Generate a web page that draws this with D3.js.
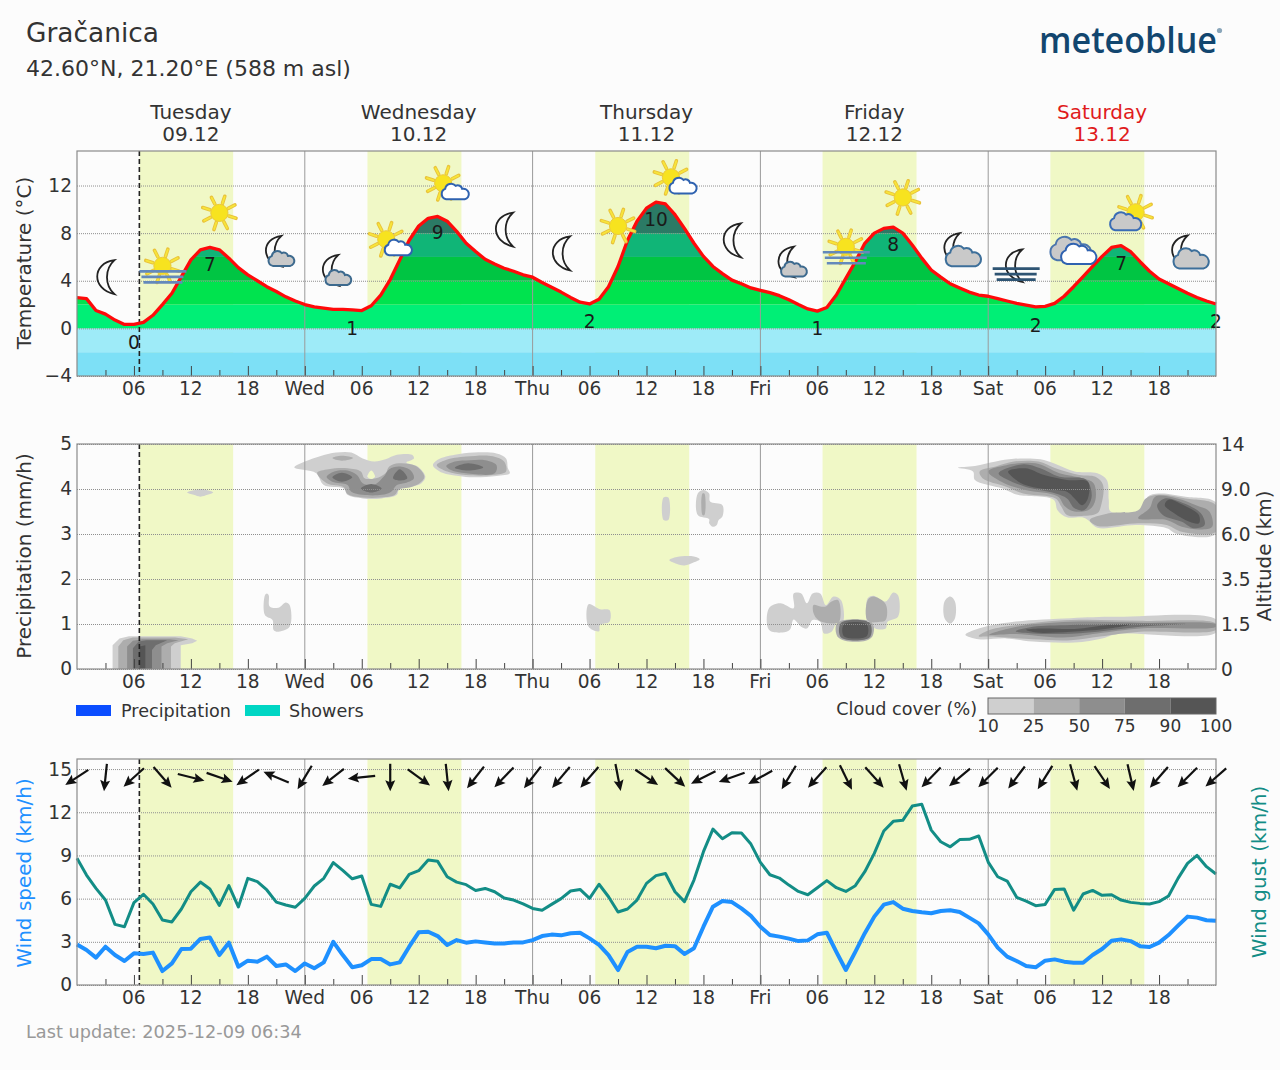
<!DOCTYPE html>
<html>
<head>
<meta charset="utf-8">
<script src="https://cdn.jsdelivr.net/npm/d3@7/dist/d3.min.js"></script>
<style>
  html, body { margin: 0; padding: 0; background: #fcfcfc; }
  svg { display: block; font-family: "DejaVu Sans", sans-serif; }
  text { fill: #333; }
</style>
</head>
<body>
<svg id="chart" width="1280" height="1070"></svg>
<script>
// Hourly forecast series, starting Tuesday 00:00
const temperature = [2.58,2.5,1.5,1.2,0.7,0.33,0.33,0.5,1.1,2,2.95,4.35,5.75,6.6,6.8,6.6,5.9,5.1,4.5,4,3.5,3.1,2.65,2.3,
  2,1.8,1.7,1.6,1.6,1.55,1.5,1.9,2.8,4.1,5.75,7.4,8.6,9.25,9.4,9,8.15,7.15,6.45,5.8,5.4,5.05,4.8,4.5,
  4.3,3.85,3.45,3.05,2.6,2.2,2.05,2.45,3.5,5.2,7.4,9,10.1,10.6,10.45,9.55,8.4,7.15,6.05,5.2,4.6,4.05,3.75,3.4,
  3.2,3,2.75,2.4,2,1.63,1.45,1.75,2.8,4.2,5.6,7.15,8,8.4,8.5,8,7,5.9,4.9,4.3,3.75,3.4,3.05,2.8,
  2.7,2.5,2.3,2.1,1.95,1.8,1.85,2.1,2.7,3.5,4.35,5.2,6.05,6.8,6.95,6.45,5.6,4.8,4.15,3.75,3.35,2.95,2.6,2.3,2.05];

const windSpeed = [2.82,2.43,1.9,2.66,2.08,1.67,2.2,2.15,2.25,0.97,1.5,2.5,2.52,3.2,3.3,2.08,2.94,1.27,1.69,1.62,1.97,1.32,1.43,0.97,
  1.5,1.16,1.57,3,2.08,1.23,1.37,1.8,1.8,1.43,1.57,2.66,3.66,3.7,3.4,2.78,3.12,2.94,3.03,2.96,2.89,2.89,2.96,2.96,
  3.12,3.4,3.5,3.45,3.6,3.63,3.24,2.78,2.08,1.04,2.3,2.66,2.66,2.55,2.73,2.7,2.15,2.55,4.05,5.44,5.83,5.76,5.32,4.8,
  4.05,3.47,3.36,3.22,3.05,3.1,3.52,3.63,2.3,1.04,2.3,3.6,4.75,5.58,5.76,5.3,5.14,5.05,4.98,5.14,5.19,5.07,4.68,4.28,
  3.52,2.6,1.97,1.67,1.32,1.23,1.69,1.78,1.62,1.55,1.55,2.08,2.5,3.08,3.17,3.05,2.7,2.64,2.94,3.47,4.12,4.75,4.68,4.5,4.47];

const windGust = [8.8,7.64,6.71,5.9,4.21,4.05,5.72,6.3,5.63,4.51,4.38,5.28,6.48,7.15,6.67,5.53,6.9,5.42,7.41,7.18,6.6,5.76,5.56,5.4,
  6.02,6.88,7.41,8.5,7.96,7.38,7.57,5.6,5.46,7,6.74,7.69,7.94,8.68,8.59,7.52,7.15,6.97,6.57,6.71,6.48,6.04,5.9,5.63,
  5.32,5.19,5.6,6,6.53,6.64,6.02,7,6.13,5.07,5.28,5.9,7.06,7.6,7.75,6.48,5.79,7.29,9.26,10.83,10.16,10.58,10.56,9.79,
  8.52,7.66,7.43,6.94,6.5,6.27,6.76,7.25,6.76,6.5,6.9,7.87,9.14,10.7,11.37,11.44,12.43,12.55,10.76,9.95,9.6,10.1,10.12,10.35,
  8.54,7.52,7.22,6.09,5.83,5.51,5.6,6.64,6.67,5.2,6.32,6.57,6.23,6.27,5.9,5.74,5.67,5.63,5.79,6.18,7.41,8.45,9,8.22,7.71];

// Compass bearing the wind blows from, every third hour
const windFrom = [57,6,48,319,284,289,55,113,31,52,84,0,306,354,38,44,38,40,41,349,304,313,63,70,61,31,42,334,318,344,44,50,45,37,32,345,326,347,41,45,49];

// Rounded daily extremes printed on the temperature panel: [hour, value, height in °C]
const tempLabels = [[6,0,-1.2],[14,7,5.4],[29,1,0],[38,9,8.1],[54,2,0.6],[61,10,9.2],[78,1,0],[86,8,7.1],[101,2,0.3],[110,7,5.5],[120,2,0.6]];

const dayNames = ["Tuesday","Wednesday","Thursday","Friday","Saturday"];
const dayDates = ["09.12","10.12","11.12","12.12","13.12"];
const dayShort = {24:"Wed",48:"Thu",72:"Fri",96:"Sat"};
const daylight = [[6.6,16.45],[30.6,40.5],[54.6,64.5],[78.55,88.45],[102.55,112.45]];
const nowHour = 6.57;

const tempBands = [[-4,-2,"#7de0f6"],[-2,0,"#9eebf8"],[0,2,"#00ef76"],[2,4,"#00e34e"],[4,6,"#00c543"],[6,8,"#10b577"],[8,16,"#2b7a65"]];
const tempTicks = [-4,0,4,8,12];
const precipTicks = [0,1,2,3,4,5];
const altitudeTicks = ["0","1.5","3.5","6.0","9.0","14"];
const windTicks = [0,3,6,9,12,15];

// Weather symbols every six hours: [hour, kind, height in °C]
const symbols = [[3,"moon",4.3],[9,"sunfog",5],[15,"sun",9.7],[21,"mooncloud",6.4],[27,"mooncloud",4.8],[33,"suncloud",7.4],[39,"suncloud",12.1],
  [45,"moon",8.3],[51,"moon",6.3],[57,"sun",8.6],[63,"suncloud",12.6],[69,"moon",7.4],[75,"mooncloud",5.5],[81,"sunfog",6.6],[87,"sun",11],
  [93,"moonovercast",6.3],[99,"moonfog",5.1],[105,"overcast",6.4],[111,"sunovercast",9.5],[117,"moonovercast",6.1]];

const cloudLevels = [10,25,50,75,90,100];
const cloudColors = ["#cfcfcf","#adadad","#8e8e8e","#6e6e6e","#555555"];

// Cloud cover regions: [band index, outline of [hour, axis position]]
const cloudRegions = [
  [0,[[3.75,0],[3.75,.53],[4.48,.68],[5.48,.73],[10.93,.73],[12.14,.68],[12.66,.63],[12.14,.57],[10.93,.53],[10.93,0]]],
  [1,[[4.35,0],[4.35,.5],[4.88,.64],[5.89,.7],[10.3,.7],[11.73,.66],[10.3,.57],[9.9,.5],[9.9,0]]],
  [2,[[5.28,0],[5.28,.5],[5.89,.63],[6.9,.66],[9.7,.66],[10.7,.64],[9.5,.57],[8.9,.5],[8.9,0]]],
  [3,[[5.89,0],[5.89,.46],[6.5,.61],[7.3,.64],[9.5,.64],[8.3,.53],[7.9,.42],[7.9,0]]],
  [4,[[6.6,0],[6.6,.5],[7.2,.53],[7.2,0]]],
  [0,[[11.6,3.92],[12.3,3.97],[13,4],[13.75,3.97],[14.35,3.92],[13.75,3.87],[13,3.83],[12.3,3.87]]],
  [0,[[19.8,1.64],[20,1.68],[20.2,1.64],[20.3,1.39],[21.2,1.36],[22,1.48],[22.4,1.42],[22.4,.94],[21,.83],[20.7,.87],[20.6,1.09],[19.8,1.2]]],
  [0,[[22.9,4.48],[24,4.61],[25.6,4.73],[27.3,4.81],[28.9,4.81],[30.1,4.68],[31.3,4.61],[32.5,4.66],[33.7,4.76],[35.3,4.76],[35.5,4.68],[34.7,4.59],[35.9,4.5],[36.7,4.27],[36.3,4.13],[35.3,4.05],[33.9,3.98],[33.7,3.87],[32.1,3.79],[30.1,3.79],[28.5,3.87],[28.1,4.01],[26,4.09],[25.2,4.35],[24,4.42]]],
  [1,[[26.9,4.69],[27.9,4.74],[29.1,4.69],[27.9,4.63]]],
  [1,[[25.3,4.36],[26.5,4.44],[28.5,4.46],[29.9,4.39],[30.3,4.24],[31.5,4.24],[32.5,4.35],[32.9,4.5],[33.9,4.57],[35.7,4.51],[36.6,4.27],[36.1,4.13],[35.1,4.04],[33.9,3.99],[33.5,3.87],[32.1,3.81],[30.1,3.81],[28.5,3.89],[28.1,4.04],[26.3,4.13]]],
  [2,[[26.3,4.27],[27.1,4.39],[28.5,4.41],[29.5,4.31],[30.1,4.13],[31.3,4.09],[32.3,4.27],[32.9,4.44],[33.9,4.5],[35.1,4.42],[35.5,4.24],[34.7,4.14],[33.7,4.09],[33.1,3.94],[32.1,3.87],[30.1,3.87],[28.9,3.94],[28.5,4.09],[26.9,4.16]]],
  [3,[[26.9,4.26],[27.9,4.36],[29,4.26],[27.9,4.16]]],
  [3,[[29.9,4.01],[31,4.11],[32.1,4.01],[31,3.92]]],
  [3,[[33.3,4.24],[34,4.44],[34.8,4.24],[34,4.19]]],
  [0,[[37.5,4.53],[38.1,4.66],[39.8,4.76],[41.8,4.81],[44.2,4.79],[45.2,4.68],[45.4,4.46],[45.6,4.35],[44.2,4.29],[41.8,4.26],[40.2,4.29],[38.5,4.36]]],
  [1,[[37.9,4.53],[38.8,4.64],[41,4.72],[43.8,4.73],[45,4.61],[45.2,4.39],[43.8,4.31],[41,4.31],[39,4.39]]],
  [2,[[38.9,4.51],[39.8,4.61],[41.4,4.64],[43,4.64],[44.2,4.53],[44,4.35],[41,4.35],[39.4,4.42]]],
  [3,[[39.8,4.47],[41.2,4.57],[42.8,4.48],[41.2,4.41]]],
  [0,[[53.9,1.44],[55.1,1.33],[56.1,1.31],[56.1,1.05],[55.1,.98],[55,.84],[53.9,.94]]],
  [0,[[61.8,3.81],[62.3,3.81],[62.3,3.31],[61.8,3.31]]],
  [0,[[65.4,3.9],[66,3.98],[66.6,3.9],[66.7,3.72],[68,3.64],[68,3.39],[67.6,3.31],[67.4,3.2],[67,3.16],[66.6,3.24],[66.6,3.33],[65.4,3.42]]],
  [1,[[65.9,3.9],[66.1,3.9],[66.1,3.42],[65.9,3.42]]],
  [0,[[62.4,2.42],[63.2,2.49],[65,2.5],[65.6,2.44],[65,2.37],[64,2.3],[63,2.35]]],
  [0,[[72.9,1.35],[74.1,1.46],[75.5,1.35],[75.5,1.68],[76.3,1.68],[76.9,1.46],[77.5,1.68],[78.3,1.68],[78.9,1.42],[79.7,1.61],[80.5,1.53],[80.7,1.05],[80.1,1.05],[79.5,.83],[78.7,.79],[78.3,1.05],[77.5,1.09],[76.9,.9],[76.3,.94],[75.5,1.1],[75.1,.87],[74.3,.81],[72.9,.87]]],
  [1,[[77.6,1.42],[78.3,1.39],[78.9,1.39],[79.5,1.5],[80.2,1.53],[80.3,1.05],[79.4,1.01],[78.1,1.09],[77.6,1.24]]],
  [1,[[80.1,1.03],[83.8,1.03],[83.8,.73],[83.1,.63],[80.9,.63],[80.1,.73]]],
  [3,[[80.5,1.03],[83.5,1.03],[83.5,.7],[80.5,.7]]],
  [4,[[80.8,.99],[83.2,.99],[83.2,.73],[80.8,.73]]],
  [0,[[83.3,1.57],[83.9,1.63],[85.2,1.5],[86,1.7],[86.5,1.64],[86.5,1.16],[85.4,1.05],[85.2,.9],[84.1,.9],[83.7,1.05],[83.3,1.05]]],
  [1,[[83.3,1.53],[83.9,1.61],[85.2,1.44],[85.2,1.09],[84.6,1.05],[83.3,1.07]]],
  [0,[[91.4,1.5],[92,1.61],[92.5,1.5],[92.5,1.13],[92,1.01],[91.4,1.13]]],
  [0,[[92.8,4.47],[94.6,4.51],[96.8,4.61],[98.7,4.67],[101.5,4.66],[102.9,4.57],[105.1,4.39],[107.5,4.35],[108.5,4.2],[108.7,3.76],[108.9,3.5],[112.4,3.55],[112.8,3.83],[114,3.9],[116.8,3.83],[120,3.7],[120,3],[115.9,3],[114.8,3.13],[111.6,3.2],[107.5,3.14],[106.5,3.31],[105.9,3.37],[104.3,3.37],[103.3,3.53],[102.9,3.76],[99.1,3.87],[97.5,4.01],[94.6,4.2],[94.4,4.39]]],
  [1,[[95.1,4.39],[96.8,4.5],[98.7,4.61],[101.3,4.61],[103.1,4.46],[105.6,4.31],[107.3,4.27],[108.1,4.09],[107.9,3.64],[107.5,3.46],[105.6,3.4],[104.3,3.42],[103.7,3.61],[103.1,3.79],[99.7,3.9],[97.9,4.05],[95.4,4.24]]],
  [1,[[106.7,3.31],[108.7,3.46],[111.8,3.53],[112.6,3.79],[114,3.87],[116.8,3.79],[120,3.64],[120,3.05],[116.4,3.05],[114.8,3.2],[111.8,3.24],[107.5,3.18]]],
  [2,[[96,4.39],[97.9,4.53],[101,4.57],[103.5,4.35],[105.9,4.24],[107.1,4.13],[107.3,3.76],[106.7,3.55],[105.1,3.5],[104.1,3.61],[103.3,3.84],[99.9,3.98],[97.7,4.13]]],
  [2,[[111.8,3.35],[113,3.57],[113.6,3.83],[115.9,3.79],[117.9,3.64],[119.3,3.5],[119.6,3.16],[118.4,3.1],[116.4,3.16],[114.8,3.31]]],
  [3,[[97.1,4.35],[99.7,4.55],[101.5,4.46],[103.5,4.27],[106.3,4.21],[106.9,3.83],[106.1,3.53],[105.1,3.57],[104.3,3.79],[103.1,3.9],[99.9,4.05],[98.1,4.2]]],
  [4,[[98.1,4.39],[99.9,4.46],[101.9,4.31],[104.3,4.2],[106.5,4.16],[106.5,3.79],[105.9,3.64],[105.1,3.79],[104.3,3.94],[102.3,3.99],[99.9,4.09],[98.7,4.24]]],
  [3,[[113.8,3.64],[114.6,3.79],[115.9,3.74],[118.4,3.46],[118.8,3.2],[117.6,3.13],[116.4,3.27],[114.4,3.42]]],
  [4,[[114.6,3.64],[115,3.76],[116.2,3.68],[118.2,3.42],[118.2,3.24],[117.2,3.27],[115.6,3.46]]],
  [0,[[93.6,.76],[95,.9],[98.7,1.05],[104.7,1.13],[109.6,1.16],[120,1.1],[120,.81],[109.6,.78],[108,.68],[105.1,.59],[100.7,.61],[97.9,.68],[95,.66]]],
  [1,[[95,.73],[96.2,.87],[99,.98],[104.7,1.09],[112,1.07],[120,1.01],[120,.87],[112,.83],[108,.73],[104.7,.64],[100.7,.66],[96.2,.72]]],
  [2,[[96.1,.76],[99,.94],[104.7,1.05],[112.4,1.03],[120,.99],[120,.94],[112,.9],[107.5,.79],[103.9,.7],[98.7,.78]]],
  [3,[[98.9,.84],[100.7,.94],[104.7,.98],[112,1.01],[116.8,1],[112,.94],[107.5,.83],[103.9,.78],[100.7,.79]]],
  [4,[[100,.87],[101.5,.9],[105.1,.89],[108.7,.98],[111.1,.99],[108.3,.89],[104.7,.83],[101.1,.81]]]
];
// Gap in the Wednesday cloud deck
const cloudGap = [[30.6,4.27],[31,4.41],[31.4,4.27],[31,4.22]];

const svg = d3.select("#chart");
const x = d3.scaleLinear().domain([0,120]).range([77,1216]);
const yTemp = d3.scaleLinear().domain([-4,14.9]).range([376,151]);
const yCloud = d3.scaleLinear().domain([0,5]).range([669,444]);
const yWind = d3.scaleLinear().domain([0,15.7]).range([985,759]);
const hours = d3.range(0,121);

const FRAME = "#8a8a8a", DAYLINE = "#9a9a9a";

function panelBackground(y) {
  const g = svg.append("g");
  const top = y.range()[1], h = y.range()[0]-top;
  g.selectAll("rect").data(daylight).join("rect")
    .attr("x", d=>x(d[0])).attr("width", d=>x(d[1])-x(d[0]))
    .attr("y", top).attr("height", h).attr("fill", "#f0f8c6");
}

function panelForeground(y, ticks) {
  const top = y.range()[1], bottom = y.range()[0];
  // dotted horizontal grid
  svg.append("g").selectAll("line").data(ticks).join("line")
    .attr("x1", x.range()[0]).attr("x2", x.range()[1])
    .attr("y1", d=>y(d)+.5).attr("y2", d=>y(d)+.5)
    .attr("stroke", "#8f8f8f").attr("stroke-width", 1).attr("stroke-dasharray", "1 1");
  // day separators
  svg.append("g").selectAll("line").data([24,48,72,96]).join("line")
    .attr("x1", d=>x(d)).attr("x2", d=>x(d)).attr("y1", top).attr("y2", bottom)
    .attr("stroke", DAYLINE).attr("stroke-width", 1);
  // current time marker
  svg.append("line").attr("x1", x(nowHour)).attr("x2", x(nowHour)).attr("y1", top).attr("y2", bottom)
    .attr("stroke", "#222").attr("stroke-width", 1.6).attr("stroke-dasharray", "5 3");
}

function panelAxes(y, ticks) {
  const bottom = y.range()[0], top = y.range()[1];
  const major = d3.axisBottom(x).tickValues(d3.range(0,121,6).filter(d=>d>0&&d<120))
    .tickSizeInner(-10).tickSizeOuter(0).tickPadding(6)
    .tickFormat(d=>dayShort[d] || d3.format("02d")(d%24));
  const ga = svg.append("g").attr("transform",`translate(0,${bottom})`).call(major);
  ga.select(".domain").remove();
  ga.selectAll("line").attr("stroke","#444");
  ga.selectAll("text").attr("font-size",18.6).attr("x",-0.6).attr("fill","#333").attr("font-family","DejaVu Sans");
  const minor = d3.axisBottom(x).tickValues(d3.range(3,121,6)).tickSizeInner(-6).tickSizeOuter(0).tickFormat("");
  const gm = svg.append("g").attr("transform",`translate(0,${bottom})`).call(minor);
  gm.select(".domain").remove();
  gm.selectAll("line").attr("stroke","#444");
  const left = d3.axisLeft(y).tickValues(ticks).tickSize(0).tickPadding(5).tickFormat(d3.format("d"));
  const gl = svg.append("g").attr("transform",`translate(${x.range()[0]},0)`).call(left);
  gl.select(".domain").remove();
  gl.selectAll("text").attr("font-size",18.6).attr("fill","#333").attr("font-family","DejaVu Sans");
  svg.append("rect").attr("x",x.range()[0]).attr("y",top).attr("width",x.range()[1]-x.range()[0]).attr("height",bottom-top)
    .attr("fill","none").attr("stroke",FRAME).attr("stroke-width",1.2);
}

function vertical(label, cx, cy, color) {
  svg.append("text").text(label).attr("transform",`translate(${cx},${cy}) rotate(-90)`)
    .attr("text-anchor","middle").attr("font-size",20).style("fill",color||"#333");
}

/* ---------- header ---------- */
svg.append("text").text("Gračanica").attr("x",26).attr("y",42).attr("font-size",26.4);
svg.append("text").text("42.60°N, 21.20°E (588 m asl)").attr("x",26).attr("y",76).attr("font-size",22);
svg.append("text").text("meteoblue").attr("x",1039).attr("y",53).attr("font-size",36).attr("font-weight",600)
  .attr("font-family","Open Sans").style("fill","#12466f").attr("textLength",178).attr("lengthAdjust","spacingAndGlyphs");
svg.append("circle").attr("cx",1219.5).attr("cy",30.5).attr("r",2.6).attr("fill","#8aa6ba");

dayNames.forEach((d,i)=>{
  const col = i===4 ? "#e01b1b" : "#333";
  svg.append("text").text(d).attr("x",x(12+24*i)).attr("y",119).attr("text-anchor","middle").attr("font-size",20).style("fill",col);
  svg.append("text").text(dayDates[i]).attr("x",x(12+24*i)).attr("y",141).attr("text-anchor","middle").attr("font-size",20).style("fill",col);
});

/* ---------- temperature panel ---------- */
panelBackground(yTemp);
const tempArea = d3.area().x((d,i)=>x(hours[i])).y0(yTemp.range()[0]).y1(d=>yTemp(d));
svg.append("clipPath").attr("id","underCurve").append("path").attr("d",tempArea(temperature));
svg.append("g").attr("clip-path","url(#underCurve)").selectAll("rect").data(tempBands).join("rect")
  .attr("x",x.range()[0]).attr("width",x.range()[1]-x.range()[0])
  .attr("y",d=>yTemp(Math.min(d[1],14.9))).attr("height",d=>yTemp(d[0])-yTemp(Math.min(d[1],14.9))).attr("fill",d=>d[2]);
panelForeground(yTemp,tempTicks);
svg.append("path").attr("d",d3.line().x((d,i)=>x(hours[i])).y(d=>yTemp(d))(temperature))
  .attr("fill","none").attr("stroke","#ff0a0a").attr("stroke-width",3.3).attr("stroke-linejoin","round");

const cloudShape = "M-9,6a5.5,5.5 0 0 1-1,-10.5a6,6 0 0 1 10.5,-3a4.5,4.5 0 0 1 6.5,3a5,5 0 0 1 2.5,10.5Z";
const moonShape = "M9,-17C-14,-14 -14,12 9,17C-1,8 -1,-8 9,-17Z";

function drawMoon(g,dx,dy,s) {
  g.append("path").attr("d",moonShape).attr("transform",`translate(${dx},${dy}) scale(${s})`)
    .attr("fill","#fcfcfc").attr("stroke","#222").attr("stroke-width",1.8/s);
}
function drawCloud(g,dx,dy,s,fill,stroke) {
  g.append("path").attr("d",cloudShape).attr("transform",`translate(${dx},${dy}) scale(${s})`)
    .attr("fill",fill).attr("stroke",stroke).attr("stroke-width",2/s);
}
function drawSun(g,dx,dy,s) {
  const sun = g.append("g").attr("transform",`translate(${dx},${dy}) scale(${s})`);
  d3.range(8).forEach(k=>{
    const a = (k*45+18)*Math.PI/180;
    sun.append("line").attr("x1",10*Math.cos(a)).attr("y1",10*Math.sin(a)).attr("x2",17.5*Math.cos(a)).attr("y2",17.5*Math.sin(a))
      .attr("stroke","#e9c23a").attr("stroke-width",3.6).attr("stroke-linecap","round");
    sun.append("line").attr("x1",10*Math.cos(a)).attr("y1",10*Math.sin(a)).attr("x2",17*Math.cos(a)).attr("y2",17*Math.sin(a))
      .attr("stroke","#f7e53a").attr("stroke-width",1.8).attr("stroke-linecap","round");
  });
  sun.append("circle").attr("r",8.6).attr("fill","#f7e31f").attr("stroke","#eccb3a").attr("stroke-width",1);
}
function drawFog(g,color,dx,dy) {
  [[-23,24,0],[-21,21,5.5],[-19,20,11]].forEach(f=>{
    g.append("line").attr("x1",dx+f[0]).attr("x2",dx+f[1]).attr("y1",dy+f[2]).attr("y2",dy+f[2])
      .attr("stroke",color).attr("stroke-width",2.6);
  });
}

const icons = svg.append("g");
symbols.forEach(([h,kind,t])=>{
  const g = icons.append("g").attr("transform",`translate(${x(h)},${yTemp(t)})`);
  switch(kind){
    case "moon": drawMoon(g,0,0,1); break;
    case "sun": drawSun(g,0,0,1); break;
    case "sunfog": drawSun(g,0,-3,1); drawFog(g,"#6489bb",0,2.5); break;
    case "moonfog": drawMoon(g,-3,-2,.95); drawFog(g,"#2e5473",-1,1); break;
    case "mooncloud": drawMoon(g,-3,-1,.9); drawCloud(g,5,8,.95,"#c9c9c9","#3d6a8e"); break;
    case "moonovercast": drawMoon(g,-8,-5,.9); drawCloud(g,3.5,5,1.3,"#c9c9c9","#3d6f9a"); break;
    case "suncloud": drawSun(g,-4,-1,1); drawCloud(g,8,9,1,"#ffffff","#2f62b0"); break;
    case "sunovercast": drawSun(g,5,-3,1); drawCloud(g,-5,8,1.15,"#c9c9c9","#3a6cb5"); break;
    case "overcast": drawCloud(g,-3,-1,1.5,"#c9c9c9","#4a75ad"); drawCloud(g,5,4,1.3,"#ffffff","#2f62b0"); break;
  }
});

svg.append("g").selectAll("text").data(tempLabels).join("text")
  .attr("x",d=>x(d[0])).attr("y",d=>yTemp(d[2])).attr("text-anchor","middle").attr("dy",".36em")
  .attr("font-size",18.6).style("fill","#1a1a1a").text(d=>d[1]);

panelAxes(yTemp,tempTicks);
vertical("Temperature (°C)",31,263);

/* ---------- cloud cover panel ---------- */
panelBackground(yCloud);
svg.append("clipPath").attr("id","cloudPlot").append("rect")
  .attr("x",x.range()[0]).attr("y",yCloud.range()[1]).attr("width",x.range()[1]-x.range()[0]).attr("height",yCloud.range()[0]-yCloud.range()[1]);
const smoothOutline = d3.line().x(d=>x(d[0])).y(d=>yCloud(d[1])).curve(d3.curveCatmullRomClosed.alpha(.5));
const sharpOutline = d3.line().x(d=>x(d[0])).y(d=>yCloud(d[1])).curve(d3.curveLinearClosed);
const cloudG = svg.append("g").attr("clip-path","url(#cloudPlot)");
cloudRegions.forEach(([band,pts],i)=>{
  // regions resting on the axis keep their straight sides
  const outline = pts[0][1] === 0 ? sharpOutline : smoothOutline;
  const path = cloudG.append("path").attr("fill",cloudColors[band]).attr("fill-rule","evenodd");
  path.attr("d", i===7 ? outline(pts)+outline(cloudGap) : outline(pts));
});
panelForeground(yCloud,precipTicks);
panelAxes(yCloud,precipTicks);
svg.append("g").selectAll("text").data(precipTicks).join("text")
  .attr("x",1221).attr("y",d=>yCloud(d)).attr("dy",".36em").attr("font-size",18.6).text((d,i)=>altitudeTicks[i]);
vertical("Precipitation (mm/h)",31,556);
vertical("Altitude (km)",1271,556);

/* ---------- legends ---------- */
svg.append("rect").attr("x",76).attr("y",705).attr("width",35).attr("height",11).attr("fill","#0a4dff");
svg.append("text").text("Precipitation").attr("x",121).attr("y",717).attr("font-size",17.6);
svg.append("rect").attr("x",245).attr("y",705).attr("width",35).attr("height",11).attr("fill","#00d6c4");
svg.append("text").text("Showers").attr("x",289).attr("y",717).attr("font-size",17.6);
svg.append("text").text("Cloud cover (%)").attr("x",977).attr("y",715).attr("text-anchor","end").attr("font-size",17.6);
const barX = d3.scalePoint().domain(cloudLevels).range([988,1216]);
svg.append("g").selectAll("rect").data(cloudColors).join("rect")
  .attr("x",(d,i)=>barX(cloudLevels[i])).attr("width",(d,i)=>barX(cloudLevels[i+1])-barX(cloudLevels[i]))
  .attr("y",698).attr("height",16).attr("fill",d=>d);
svg.append("rect").attr("x",988).attr("y",698).attr("width",228).attr("height",16).attr("fill","none").attr("stroke","#666").attr("stroke-width",1);
svg.append("g").selectAll("text").data(cloudLevels).join("text")
  .attr("x",d=>barX(d)).attr("y",732).attr("text-anchor","middle").attr("font-size",17).text(d=>d);

/* ---------- wind panel ---------- */
panelBackground(yWind);
panelForeground(yWind,windTicks);
svg.append("path").attr("d",d3.line().x((d,i)=>x(hours[i])).y(d=>yWind(d))(windGust))
  .attr("fill","none").attr("stroke","#138d86").attr("stroke-width",3).attr("stroke-linejoin","round");
svg.append("path").attr("d",d3.line().x((d,i)=>x(hours[i])).y(d=>yWind(d))(windSpeed))
  .attr("fill","none").attr("stroke","#1e90ff").attr("stroke-width",4).attr("stroke-linejoin","round");
panelAxes(yWind,windTicks);

const arrows = svg.append("g");
windFrom.forEach((from,i)=>{
  const g = arrows.append("g").attr("transform",`translate(${x(i*3)},${yWind(14.43)}) rotate(${from+180})`);
  g.append("line").attr("x1",0).attr("y1",13.5).attr("x2",0).attr("y2",-6).attr("stroke","#111").attr("stroke-width",2.2);
  g.append("path").attr("d","M0,-14L5,-3L0,-5L-5,-3Z").attr("fill","#111");
});
vertical("Wind speed (km/h)",31,873,"#1e90ff");
vertical("Wind gust (km/h)",1266,872,"#138d86");

svg.append("text").text("Last update: 2025-12-09 06:34").attr("x",26).attr("y",1038).attr("font-size",17.7).style("fill","#999");
</script>
</body>
</html>
